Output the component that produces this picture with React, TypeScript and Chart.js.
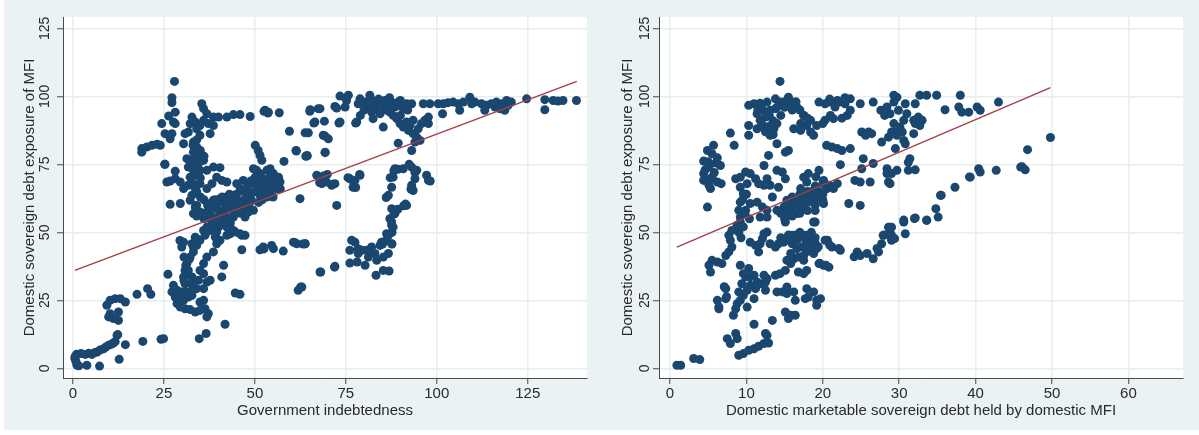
import React, { useEffect, useRef } from "react";
import { Chart, registerables } from "chart.js";

Chart.register(...registerables);

const Y_TICKS = [0, 25, 50, 75, 100, 125];
const GOV_X_TICKS = [0, 25, 50, 75, 100, 125];
const MFI_X_TICKS = [0, 10, 20, 30, 40, 50, 60];
const Y_TITLE = "Domestic sovereign debt exposure of MFI";
const GOV_X_TITLE = "Government indebtedness";
const MFI_X_TITLE = "Domestic marketable sovereign debt held by domestic MFI";

// [x, y] observations, left panel (x = government indebtedness)
const govPoints: number[][] = [
  [0.6,4.4],[1.1,1.1],[3.8,1.1],[7.3,0.8],[3.4,5.1],[5.2,5.1],[6.6,6.0],[8.4,7.2],[9.8,8.5],[11.1,9.3],[12.3,12.4],[12.7,3.3],[14.4,8.7],[19.2,9.9],[24.2,10.7],[24.9,10.9],[34.7,10.9],[36.6,12.8],[0.5,3.7],[1,5.2],[1.6,0.9],[2.2,5.4],[4.3,5.5],[7.4,6.7],[10.5,8.8],[11.6,9.8],[0.8,2.5],[6,5.8],[9,7.8],
  [9.3,23.2],[10.2,25.0],[11.6,25.6],[13.0,25.6],[14.4,24.4],[9.8,18.9],[10.2,20.1],[12.5,20.7],[12.5,17.6],[11.1,18.3],[12.1,12.1],[17.6,27.2],[20.5,29.3],[21.4,27.2],[41.8,16.2],[26.1,34.6],
  [27.2,28.1],[28.1,26.2],[28.6,23.8],[29.5,22.5],[30.8,21.9],[32.2,21.6],[33.6,20.7],[34.9,21.3],[36.3,21.9],[37.2,20.1],[36.8,18.9],[35.9,25.0],[34.9,24.4],[32.7,26.8],[31.7,26.2],[30.4,25.0],[29.9,28.1],[31.3,28.1],[30.8,31.1],[30.4,33.6],[30.8,36.0],[31.3,38.5],[32.2,40.9],[33.1,42.8],[34.0,45.2],[34.9,47.1],[36.3,48.9],[37.7,50.7],[38.6,52.6],[39.1,48.3],[39.5,45.8],[38.6,42.8],[36.8,40.9],[35.9,38.5],[36.8,31.7],[37.7,32.4],[35.9,29.3],[40.9,33.6],[41.4,37.9],[44.6,27.7],[45.9,27.2],[46.4,43.6],[46.4,48.9],[47.3,48.9],[43.2,49.5],[42.3,48.9],[40.4,47.1],[40.0,51.9],[41.4,53.2],[44.1,50.7],[51.4,43.6],[52.3,44.6],[54.6,45.2],[55.1,44.0],[57.8,43.1],[60.6,46.4],[61.5,45.8],[63.8,45.8],[61.9,28.7],[62.6,29.9],[67.9,35.4],
  [30.4,46.4],[29.9,44.6],[32.7,45.8],[34.0,47.7],[35.9,50.7],[36.8,51.9],[38.2,53.2],[39.5,50.1],[40.4,53.8],[43.2,53.2],[44.6,50.1],[45.9,49.5],[34.9,36.0],[35.9,34.8],[34.5,32.4],[32.7,33.6],[31.7,36.0],[33.1,31.7],[34.0,29.3],[32.7,28.7],[28.6,28.7],[27.6,30.5],[29.0,26.2],
  [29.4,47],[30.5,40.9],[31,37.8],[31.5,34.8],[30.5,32.3],[32.6,31.1],[32,40.2],[33.1,44.5],[33.6,48.2],
  [27.9,105.5],[27.2,99.5],[27.2,97.7],[28.1,94.2],[26.3,92.8],[27.6,90.6],[28.1,90.0],[24.4,90.0],[25.3,86.3],[27.2,86.3],[26.7,84.4],[18.9,80.8],[18.9,79.5],[20.3,81.4],[21.7,82.0],[23.1,82.4],[24.0,82.0],[25.3,75.0],[28.1,72.5],[25.8,68.5],[26.7,68.9],[26.7,60.3],[29.5,60.6],[28.1,69.7],[29.5,68.5],[31.7,67.3],[30.4,66.1],
  [35.4,97.3],[35.9,95.5],[36.8,93.6],[32.7,92.4],[32.2,90.0],[31.7,86.9],[30.8,86.3],[30.4,82.6],[33.6,90.6],[34.0,88.1],[34.9,89.3],[35.9,91.2],[34.9,85.7],[37.2,90.0],[38.6,89.3],[37.7,86.3],[38.6,92.4],[40.0,92.4],[42.3,92.4],[44.1,93.3],[45.9,93.3],[48.7,92.6],[52.8,94.9],[53.7,94.2],[56.7,94.0],[59.5,87.2],[63.8,86.6],[64.7,86.6],[61.3,80.1],[64.4,78.1],[58.0,76.1],[65.2,94.9],[66.5,90.6],[67.4,95.5],
  [33.1,83.2],[34.0,81.4],[34.9,80.1],[33.1,79.5],[31.3,77.1],[32.7,76.5],[34.0,75.8],[35.9,76.5],[31.7,74.0],[33.1,72.8],[34.0,71.0],[32.2,70.3],[34.9,72.8],[36.8,72.8],[38.6,74.0],[39.5,70.3],[40.9,69.1],[42.3,68.5],[38.2,67.9],[36.8,66.1],[34.9,67.9],[33.6,66.1],[32.7,63.6],[32.2,61.8],[33.6,59.3],[34.9,57.5],[33.1,56.9],[35.9,56.3],[37.2,58.1],[37.7,60.6],[38.6,61.8],[40.4,62.4],[42.3,63.0],[44.1,63.6],[45.0,61.8],[45.9,60.6],[46.8,69.1],[45.0,67.9],
  [50.1,82.0],[50.9,80.1],[51.4,78.3],[51.9,76.5],[49.6,73.4],[50.5,72.8],[51.4,71.6],[53.3,72.8],[54.2,73.4],[55.1,71.6],[56.5,70.3],[56.9,68.5],[50.1,70.3],[51.4,68.5],[53.3,67.9],[55.1,67.3],[50.5,66.1],[52.3,66.1],[54.2,65.4],[49.6,64.8],[51.4,63.6],[53.3,63.0],[47.8,63.0],[48.7,61.1],[47.8,59.3],[49.6,58.1],[46.4,58.7],[45.0,57.5],[43.2,59.3],[41.8,60.6],[43.2,61.1],[41.4,58.1],[39.5,58.7],[40.0,55.6],[37.7,55.0],[44.1,55.6],[47.3,55.6],[48.2,57.5],[39.5,53.8],[43.2,53.8],[38.6,51.9],[42.3,51.9],
  [36,57],[38,59],[40,61],[42,62],[44,62],[46,60],[48,59],[40,58],[42,58],[44,58],[46,57],[38,56],[42,56],[36,55],[41,55],[43,59],[45,59],[47,62],[49,62],[51,61],[52,62],[53,64],[55,63],[34,56],[37,60],[39,62],[41,63],[43,64],[45,64],
  [34,78],[35,76],[33,74],[35,70],[33,68],[34,65],[35,63],[36,62],[34,60],[33,82],[34,84],[35,80],[36,78],
  [47,65],[48,67],[49,69],[52,70],[53,69],[54,70],[50,68],[48,64],[46,66],[55,69],[57,66],[56,66],
  [65.2,95.1],[67.9,95.5],[72.0,96.3],[73.4,100.1],[75.7,100.4],[75.2,98.5],[74.8,96.1],[73.4,90.6],[68.8,85.7],[70.2,84.4],[69.3,79.5],[64.3,78.3],[78.0,90.6],[78.4,97.3],[78.9,99.1],[80.3,97.9],[81.6,100.4],[81.2,96.1],[82.1,94.2],[82.5,91.8],[83.0,97.3],[84.4,97.9],[85.3,96.1],[84.4,93.6],[85.7,98.5],[86.7,96.7],[87.6,97.9],[88.5,96.1],[87.1,94.2],[85.3,88.7],[89.4,97.9],[89.9,96.7],[90.8,95.5],[91.7,97.3],[93.1,97.3],[89.0,91.8],[89.9,90.0],[90.8,88.7],[91.7,90.6],[92.6,89.3],[93.5,91.2],[92.2,87.5],[93.5,86.3],[94.9,88.1],[95.8,90.0],[96.7,91.2],[97.7,92.4],[97.7,90.0],[94.5,85.0],[95.4,83.8],[94.0,83.2],[89.4,82.8],[93.1,80.1],[96.3,97.3],[98.1,97.3],[100.4,97.3],[101.8,97.3],[103.1,97.7],[104.5,97.9],[105.9,97.3],[107.3,97.9],[109.1,99.7],[109.6,97.3],[110.5,97.9],[106.3,94.9],[101.6,93.6],[112.3,97.3],[113.7,96.7],[113.2,94.9],[115.0,97.3],[116.0,96.1],[116.4,97.9],[117.8,97.3],[117.3,95.5],[119.2,98.5],[119.6,96.7],[118.7,94.9],[120.5,97.9],[124.7,99.1],[129.7,98.8],[129.7,95.1],[132.0,98.5],[133.3,98.3],[134.7,98.5],[138.4,98.5],
  [80,95],[83,95.5],[86,95],[88,93],[90,93],[92,95],[79,93],[84,99],[87,99.5],[90,98.5],[82,98.8],
  [67.0,71.0],[67.9,69.7],[68.4,67.9],[71.1,67.3],[69.7,68.5],[72.0,67.9],[72.5,59.9],[62.4,62.4],[76.1,69.7],[77.5,69.1],[77.0,66.6],[78.9,71.0],
  [88.5,73.4],[88.0,70.3],[87.6,66.6],[86.7,63.6],[90.8,73.4],[93.1,74.0],[94.5,72.8],[94.0,69.7],[93.1,67.3],[93.5,65.4],[97.2,71.0],[97.7,69.1],[91.7,59.9],[87.6,58.7],[88.5,56.9],[87.1,55.0],[87.6,52.6],
  [87.6,53.8],[88.0,51.9],[86.2,49.5],[84.8,46.4],[87.6,45.8],[84.4,45.2],[83.0,42.2],[82.1,42.8],[80.7,43.4],[79.4,43.4],[78.4,44.0],[77.5,46.4],[76.6,47.1],[76.1,43.4],[78.4,42.2],[81.2,40.9],[83.5,39.7],[85.3,40.9],[86.7,42.2],[76.1,38.7],[78.1,39.1],[80.3,37.9],[83.3,34.2],[85.3,36.0],[86.9,35.8],[72.0,37.5],[68.1,35.4],[63.8,45.8],[62.9,29.9],[82.1,44.6],
  [87.2,70.1],[88.2,72.6],[89.3,73.2],[92.4,75],[94,72],[92.9,65.9],[91.4,60.4],[90.9,59.8],[89.3,58.5],[88.2,56.7],[87.7,50],[86.7,48.8],[86.1,47],[85.1,45.7],[87.7,45.7],[86.1,62.8],[98.2,68.9],
  [61.4,79.9],[64,78],[66.2,90.2],[65.1,94.5],[69.1,90.9],[69.3,85.4],[69.3,79.3],[69.9,71.3],[68.8,70.7],[67.8,68.3],[71.4,67.7],[71.9,37.2],[63.2,45.7],[60.9,46.3],[52.5,43.9],[72.5,95.7],[73.1,90.2],[75.1,99.4],[77.7,90.2],[75.6,70.1],[77.2,68.3],[78.8,71.3],[77.7,66.5],[53.6,93.9],[52.5,94.5],
  [25.2,75],[40.4,73.8]
];

// [x, y] observations, right panel (x = domestic marketable sovereign debt held by domestic MFI)
const mfiPoints: number[][] = [
  [14.4,105.5],[10.3,96.7],[11.0,97.3],[11.8,97.5],[12.7,97.9],[13.8,99.1],[14.4,97.9],[15.5,99.7],[16.0,97.9],[16.6,96.1],[11.4,93.6],[11.8,91.2],[11.4,88.1],[12.3,88.7],[12.7,86.9],[13.1,85.7],[13.6,88.1],[12.5,92.4],[13.1,94.9],[13.8,95.5],[14.0,82.6],[12.9,78.3],[15.1,79.5],[15.5,80.1],[10.3,89.3],[10.3,85.7],[7.9,86.5],[8.4,82.0],
  [4.9,80.1],[5.7,82.0],[5.5,78.9],[4.4,76.2],[6.2,77.4],[6.6,74.6],[5.1,74.0],[4.4,71.6],[5.5,70.3],[4.4,69.1],[6.2,68.5],[5.3,66.1],[5.1,67.3],[6.7,67.9],[4.9,59.3],[5.0,76.0],[4.6,73],[5.8,72],[6,75.5],[5.2,69.5],
  [12.3,74.6],[8.6,69.7],[9.2,70.3],[9.9,72.2],[10.5,71.6],[11.2,69.7],[11.6,67.9],[10.1,67.9],[9.2,66.6],[9.6,64.2],[9.2,61.1],[9.0,58.1],[9.2,55.6],[8.8,52.6],[9.9,58.1],[10.5,60.6],[11.4,61.1],[12.1,59.3],[12.7,58.1],[13.4,63.0],[12.7,69.7],[13.1,67.3],[14.0,72.8],[14.7,72.2],[14.2,66.6],[12.3,67.3],[15.1,69.7],[14.0,58.1],[14.9,59.3],[15.3,61.8],[16.0,62.4],[16.6,61.1],[17.1,59.3],[17.5,60.6],[17.9,63.0],[18.6,63.6],[19.2,62.4],[19.7,64.2],[20.1,60.6],[16.0,57.5],[16.6,56.9],[15.1,55.6],[14.4,57.5],[12.7,55.6],[11.8,55.6],[18.8,53.8],[17.9,68.5],[17.5,70.3],[18.1,71.6],[19.5,72.8],[20.1,69.1],[20.8,67.3],[21.4,66.1],[21.9,67.9],[18.8,65.4],[17.1,66.1],[22.3,74.9],[23.4,60.6],[24.9,59.9],[24.2,69.1],[24.9,68.5],[26.2,68.5],[25.3,77.1],[25.1,73.4],[23.6,80.8],[20.5,82.0],[21.2,81.4],[21.9,80.8],[22.5,80.1],[18.8,85.7],[18.4,86.9],[16.2,88.1],[17.1,87.5],[17.9,89.3],[17.1,90.0],[19.2,89.3],[18.4,91.2],[17.5,93.0],[19.5,97.9],[20.3,97.3],[21.0,97.9],[21.6,96.1],[22.2,97.9],[22.9,97.3],[23.6,99.1],[23.6,94.9],[23.2,93.0],[21.4,91.8],[20.3,91.2],[24.9,97.3],[26.6,97.9],[25.1,86.9],[26.0,86.9],[26.4,86.3],[25.6,85.7],[28.4,96.1],[28.8,93.6],[29.3,100.4],[27.7,83.2],[28.6,85.0],[29.3,86.9],[28.4,73.4],[28.6,68.5],[28.8,51.9],
  [29.7,99.7],[29.3,97.9],[30.8,97.3],[29.9,94.9],[31.0,93.6],[32.1,97.3],[32.7,100.4],[33.6,100.4],[34.9,100.4],[38.0,100.4],[36.0,95.1],[37.8,96.1],[38.2,94.2],[39.1,94.2],[40.2,96.1],[40.6,94.9],[43.0,97.9],[31.9,91.2],[32.5,92.4],[33.0,91.2],[32.1,90.0],[32.7,89.3],[30.6,91.2],[30.1,88.7],[29.3,90.0],[29.0,86.9],[29.7,85.7],[30.4,86.9],[30.6,83.8],[30.8,82.6],[29.5,80.8],[31.9,86.3],[31.4,77.1],[31.2,75.8],[31.2,72.8],[32.1,73.0],[29.7,72.8],[29.0,71.6],[28.8,67.9],[35.5,63.6],[37.3,66.6],[39.3,70.3],[40.4,73.4],[40.6,72.2],[42.7,72.8],[45.9,74.0],[46.5,73.0],[46.8,80.4],[49.8,84.9],[34.8,58.7],[35.1,55.6],[33.6,54.4],[32.1,55.3],[30.6,53.8],[29.0,51.9],
  [30.8,49.5],[29.0,48.9],[29.0,47.1],
  [0.9,1.1],[1.4,1.1],[3.1,3.6],[3.9,3.2],[9.0,4.8],[9.6,5.4],[10.3,6.6],[11.0,7.2],[11.6,8.1],[12.3,9.1],[12.9,9.3],[12.7,12.1],[12.5,12.8],[7.5,10.9],[7.9,9.1],[8.6,12.8],[8.8,10.9],[11.0,16.2],[13.4,17.6],[6.4,21.9],[6.2,25.0],[7.3,25.6],[7.3,29.3],[8.3,19.5],[8.6,21.9],[8.8,23.8],[9.2,25.0],[9.6,26.8],[9.0,28.1],[10.1,28.7],[10.5,30.5],[9.4,31.1],[9.9,33.6],[10.5,33.6],[9.2,37.9],[11.2,29.3],[11.0,25.6],[10.1,22.5],[11.8,31.1],[12.5,31.7],[12.5,28.7],[12.7,33.0],[13.8,34.2],[14.4,34.8],[15.1,36.0],[14.0,28.1],[14.7,28.1],[15.3,27.5],[16.2,28.1],[16.4,25.0],[15.3,29.9],[15.1,20.7],[15.8,19.5],[16.4,19.5],[15.5,18.3],[17.9,29.3],[18.1,26.2],[18.8,28.1],[19.2,25.0],[19.7,25.6],[19.2,23.2],[17.7,25.6],[16.8,35.4],[17.5,34.8],[17.9,36.0],[19.5,38.5],[20.1,37.9],[20.8,37.2],[15.8,38.5],[15.3,39.7],[16.2,40.3],[16.8,40.9],[17.5,41.5],[15.8,42.2],[12.3,34.2],[11.4,31.7],[11.0,34.2],[9.6,34.8],[10.3,36.7],[5.3,35.4],[5.1,37.9],[5.5,39.7],[6.2,39.1],[6.8,38.5],[7.3,41.5],[7.7,42.8],[8.1,44.6],[7.9,47.1],[7.7,48.9],[8.1,50.7],[8.8,52.6],[9.2,53.8],[10.5,46.4],[11.2,45.2],[11.6,42.8],[11.8,45.8],[12.3,49.5],[12.7,50.1],[12.1,47.7],[13.1,45.8],[13.8,44.6],[14.2,45.8],[14.9,46.4],[15.5,47.7],[16.0,48.9],[16.6,47.1],[17.1,48.3],[17.7,48.9],[17.9,46.4],[18.6,45.2],[18.1,43.4],[17.3,44.6],[17.5,39.7],[18.8,42.2],[16.0,45.8],[16.6,44.0],[20.3,47.1],[21.2,44.6],[22.3,43.4],[19.0,53.8],[15.1,53.8],[24.5,42.8],[24.9,41.5],[25.8,42.2],[26.6,40.3],[27.3,42.8],[27.7,45.8],[27.9,48.9],[28.8,50.1],[28.6,51.9],
  [19.6,38.6],[20.4,37.9],[20.6,47.1],[20.9,45.3],[22.1,44.1],[19.4,44.7],[24.1,41],[27.1,44.1],[28.1,49],[28.9,49],[29.4,47.7],[30.6,54.5],[32,55.1],[33.6,54.5],[35.4,63.6],[39.2,70.4],[46.1,74.1],[6.4,22.6],[7.4,26.3],[7.1,30],
  [9.5,62],[10,64],[9.8,57],[10.4,55],[9.6,52],[9,50],[9.3,48],
  [11.5,95],[12,96],[12.5,94],[13,93],[13.5,91],[12,90],[13,89],[14,90],[14.5,93],[15,96],[15.5,97],[16,95],[17,95],[17.5,93],[18,92],[12.5,87],[13.5,86],[14,96],[15,98],[16.5,98],
  [15,58],[15.5,60],[16,59],[16.5,61],[17,60],[17.5,62],[18,61],[18.5,62],[19,63],[19.5,65],[20,64],[20.5,66],[21,67],[17,57],[18,58],[19,60],[16,56],[15,55],[14.5,57],[19,67],[20,68],[18,65],[17,64],[16,63],[19,58],[20,62],
  [18,48],[18.5,47],[19,46],[19.2,44],[18.5,45],[17.8,46],[18,43],[19,48],
  [14.5,48],[15.5,49],[16.5,49],[17,50],[18.5,50],
  [20.9,99],[21.9,98.5],[22.9,99.5],[21,93],[22.5,92],[20,90],[27.6,94.9],[28.1,93],[26.6,75.3],[28.4,71.6],[19.1,70.4]
];

// fitted regression lines: [x, y] endpoints
const govFit: number[][] = [[0.5, 36.0], [138.5, 105.5]];
const mfiFit: number[][] = [[0.9, 44.6], [49.8, 103.2]];

const FONT = "'Liberation Sans', Arial, Helvetica, sans-serif";
const TEXT = "#2a2a2a";
const GRAPH_BG = "#eaf2f3";
const GRID = "#e6eef0";
const AXIS = "#4a4a4a";
const MARKER = "#1a476f";
const FITLINE = "#a33f47";

const plotBg = {
  id: "plotBg",
  beforeDraw(chart: any) {
    const { ctx, chartArea: a } = chart;
    ctx.save();
    ctx.fillStyle = "#ffffff";
    ctx.fillRect(a.left, a.top, a.right - a.left, a.bottom - a.top);
    ctx.restore();
  },
};

type PanelProps = {
  left: number;
  width: number;
  points: number[][];
  fit: number[][];
  xTicks: number[];
  xMin: number;
  xMax: number;
  xTitle: string;
  yAxisWidth: number;
  padRight: number;
  yLabelPad: number;
  yTitlePad: number;
};

function Panel(p: PanelProps) {
  const ref = useRef<HTMLCanvasElement>(null);
  useEffect(() => {
    const canvas = ref.current;
    if (!canvas) return;
    const chart = new Chart(canvas, {
      type: "scatter",
      data: {
        datasets: [
          {
            data: p.fit.map(([x, y]) => ({ x, y })),
            showLine: true,
            borderColor: FITLINE,
            borderWidth: 1.4,
            pointRadius: 0,
            fill: false,
          },
          {
            data: p.points.map(([x, y]) => ({ x, y })),
            pointRadius: 4.5,
            pointBackgroundColor: MARKER,
            pointBorderColor: MARKER,
            pointBorderWidth: 0,
            showLine: false,
          },
        ],
      },
      options: {
        animation: false,
        responsive: false,
        maintainAspectRatio: false,
        events: [],
        layout: { padding: { top: 17, right: p.padRight, bottom: 0, left: 0 } },
        plugins: { legend: { display: false }, tooltip: { enabled: false } },
        scales: {
          x: {
            type: "linear",
            min: p.xMin,
            max: p.xMax,
            afterBuildTicks: (s: any) => {
              s.ticks = p.xTicks.map((v) => ({ value: v }));
            },
            afterFit: (s: any) => {
              s.height = 57;
            },
            grid: { color: GRID, lineWidth: 1.5, tickColor: AXIS, tickLength: 6, tickWidth: 1 },
            border: { display: true, color: AXIS, width: 1 },
            ticks: {
              font: { family: FONT, size: 15 },
              color: TEXT,
              padding: 1,
              maxRotation: 0,
              autoSkip: false,
            },
            title: {
              display: true,
              text: p.xTitle,
              font: { family: FONT, size: 15 },
              color: TEXT,
              padding: { top: 0, bottom: 15 },
            },
          },
          y: {
            type: "linear",
            min: -3.57,
            max: 129.2,
            afterBuildTicks: (s: any) => {
              s.ticks = Y_TICKS.map((v) => ({ value: v }));
            },
            afterFit: (s: any) => {
              s.width = p.yAxisWidth;
            },
            grid: { color: GRID, lineWidth: 1.5, tickColor: AXIS, tickLength: 6, tickWidth: 1 },
            border: { display: true, color: AXIS, width: 1 },
            ticks: {
              font: { family: FONT, size: 14 },
              color: TEXT,
              minRotation: 90,
              maxRotation: 90,
              crossAlign: "center",
              padding: p.yLabelPad,
              autoSkip: false,
            },
            title: {
              display: true,
              text: Y_TITLE,
              font: { family: FONT, size: 15 },
              color: TEXT,
              padding: { top: p.yTitlePad, bottom: 0 },
            },
          },
        },
      },
      plugins: [plotBg],
    } as any);
    return () => chart.destroy();
  }, []);
  return (
    <canvas
      ref={ref}
      width={p.width}
      height={435}
      style={{ position: "absolute", left: p.left, top: 0, width: p.width, height: 435 }}
    />
  );
}

export default function App() {
  return (
    <div style={{ position: "absolute", left: 0, top: 0, width: 1199, height: 435, background: "#ffffff", overflow: "hidden" }}>
      <div style={{ position: "absolute", left: 4, top: 0, width: 1195, height: 430, background: GRAPH_BG }} />
      <Panel
        left={0}
        width={600}
        points={govPoints}
        fit={govFit}
        xTicks={GOV_X_TICKS}
        xMin={-2.75}
        xMax={141.3}
        xTitle={GOV_X_TITLE}
        yAxisWidth={63}
        padRight={13}
        yLabelPad={0}
        yTitlePad={21}
      />
      <Panel
        left={600}
        width={599}
        points={mfiPoints}
        fit={mfiFit}
        xTicks={MFI_X_TICKS}
        xMin={-1.44}
        xMax={67.15}
        xTitle={MFI_X_TITLE}
        yAxisWidth={59}
        padRight={16}
        yLabelPad={-3.5}
        yTitlePad={19}
      />
    </div>
  );
}
